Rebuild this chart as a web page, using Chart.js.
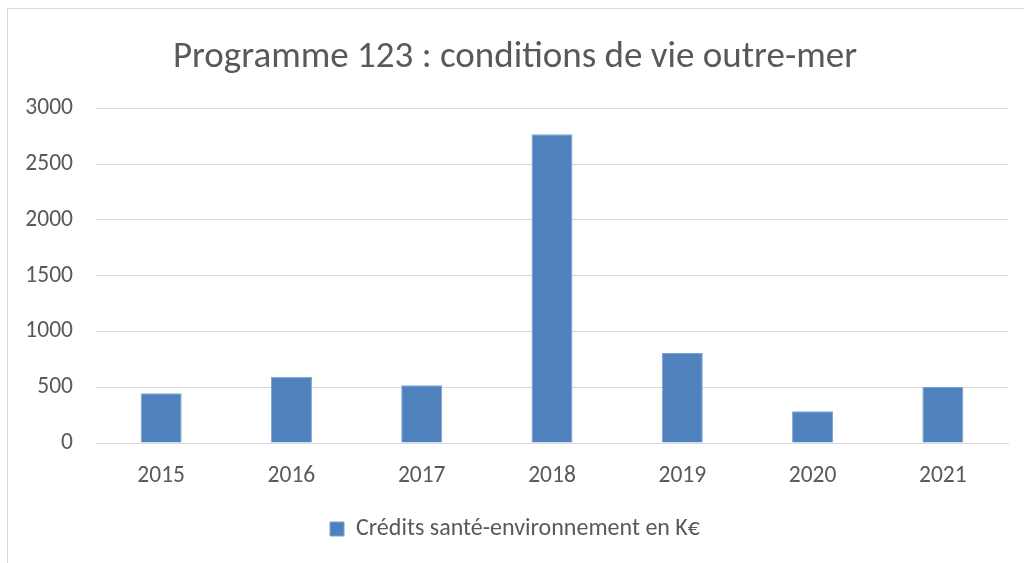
<!DOCTYPE html>
<html>
<head>
<meta charset="utf-8">
<script src="https://cdn.jsdelivr.net/npm/chart.js@4/dist/chart.umd.min.js"></script>
<style>
  html, body { margin: 0; padding: 0; background: #fff; }
  #frame { position: absolute; left: 7px; top: 8px; width: 1100px; height: 700px;
           border-left: 1px solid #d9d9d9; border-top: 1px solid #d9d9d9; }
  #wrap { position: absolute; left: 0; top: 0; width: 1024px; height: 563px; }
</style>
</head>
<body>
<div id="frame"></div>
<div id="wrap"><canvas id="chart"></canvas></div>
<script>
// values
const years = ['2015', '2016', '2017', '2018', '2019', '2020', '2021'];
const credits = [445, 594, 517, 2769, 808, 285, 502];
const yTicks = [0, 500, 1000, 1500, 2000, 2500, 3000];

const textColor = '#595959';
const gridColor = '#d9d9d9';
const fontFamily = 'Carlito, Calibri, "Open Sans", sans-serif';

const ctx = document.getElementById('chart').getContext('2d');
new Chart(ctx, {
    type: 'bar',
    data: {
        labels: years,
        datasets: [{
            label: 'Crédits santé-environnement en K€',
            data: credits,
            backgroundColor: '#4f81bd',
            borderColor: '#7da2d1',
            borderWidth: 1,
            barPercentage: 0.315,
            categoryPercentage: 1
        }]
    },
    options: {
        responsive: true,
        maintainAspectRatio: false,
        animation: false,
        layout: { padding: { left: 22, right: 16, top: 36, bottom: 12 } },
        plugins: {
            title: {
                display: true,
                text: 'Programme 123 : conditions de vie outre-mer',
                color: textColor,
                font: { family: fontFamily, size: 37, weight: 'normal' },
                padding: { top: 0, bottom: 28 }
            },
            legend: {
                position: 'bottom',
                labels: {
                    color: textColor,
                    font: { family: fontFamily, size: 24 },
                    boxWidth: 14,
                    boxHeight: 14,
                    padding: 10
                }
            },
            tooltip: { enabled: false }
        },
        scales: {
            x: {
                afterFit: axis => { axis.height = 64; },
                grid: { display: false },
                border: { display: true, color: gridColor, width: 1 },
                ticks: { color: textColor, font: { family: fontFamily, size: 23.5 }, padding: 11 }
            },
            y: {
                min: 0,
                max: 3000,
                afterBuildTicks: axis => { axis.ticks = yTicks.map(v => ({ value: v })); },
                afterFit: axis => { axis.width = 74; },
                grid: { color: gridColor, lineWidth: 1, drawTicks: false },
                border: { display: false },
                ticks: {
                    color: textColor,
                    font: { family: fontFamily, size: 23.5 },
                    padding: 23,
                    callback: v => String(v)
                }
            }
        }
    }
});
</script>
</body>
</html>
